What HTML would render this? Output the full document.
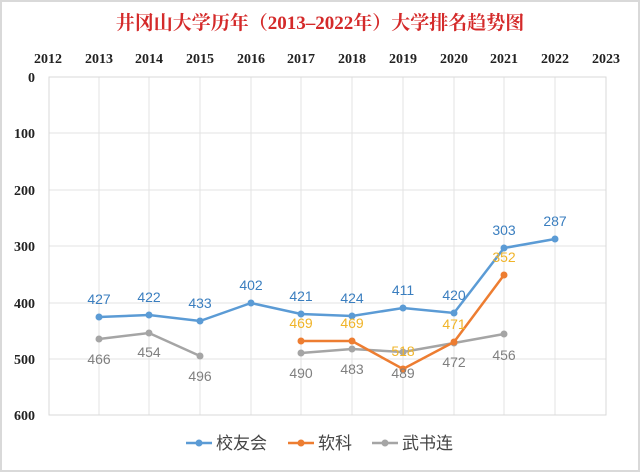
<!DOCTYPE html>
<html><head><meta charset="utf-8"><style>
body{margin:0;background:#fff;}
svg{display:block}
</style></head><body>
<svg width="640" height="472" viewBox="0 0 640 472" xmlns="http://www.w3.org/2000/svg">
<rect x="1" y="1" width="638" height="470" fill="#fff" stroke="#d9d9d9" stroke-width="2"/>
<text x="320" y="29" text-anchor="middle" font-family="'Liberation Serif','Noto Serif CJK SC',serif" font-weight="bold" font-size="19" fill="#d42a2a">井冈山大学历年（2013–2022年）大学排名趋势图</text>
<g font-family="'Liberation Serif',serif" font-weight="bold" font-size="14" fill="#222" text-anchor="middle">
<text x="48" y="63">2012</text><text x="99" y="63">2013</text><text x="149" y="63">2014</text><text x="200" y="63">2015</text><text x="251" y="63">2016</text><text x="301" y="63">2017</text><text x="352" y="63">2018</text><text x="403" y="63">2019</text><text x="454" y="63">2020</text><text x="504" y="63">2021</text><text x="555" y="63">2022</text><text x="606" y="63">2023</text>
</g>
<g font-family="'Liberation Serif',serif" font-weight="bold" font-size="14" fill="#222" text-anchor="end">
<text x="35" y="82">0</text><text x="35" y="138">100</text><text x="35" y="195">200</text><text x="35" y="251">300</text><text x="35" y="308">400</text><text x="35" y="364">500</text><text x="35" y="420">600</text>
</g>
<g stroke="#e3e3e3" stroke-width="1">
<line x1="49" y1="133" x2="606" y2="133"/><line x1="49" y1="190" x2="606" y2="190"/><line x1="49" y1="246" x2="606" y2="246"/><line x1="49" y1="303" x2="606" y2="303"/><line x1="49" y1="359" x2="606" y2="359"/>
<line x1="99" y1="77" x2="99" y2="415"/><line x1="149" y1="77" x2="149" y2="415"/><line x1="200" y1="77" x2="200" y2="415"/><line x1="251" y1="77" x2="251" y2="415"/><line x1="301" y1="77" x2="301" y2="415"/><line x1="352" y1="77" x2="352" y2="415"/><line x1="403" y1="77" x2="403" y2="415"/><line x1="454" y1="77" x2="454" y2="415"/><line x1="504" y1="77" x2="504" y2="415"/><line x1="555" y1="77" x2="555" y2="415"/>
</g>
<rect x="49" y="77" width="557" height="338" fill="none" stroke="#d9d9d9"/>
<polyline fill="none" stroke="#5b9bd5" stroke-width="2.5" points="99,317 149,315 200,321 251,303 301,314 352,316 403,308 454,313 504,248 555,239"/>
<g fill="#5b9bd5"><circle cx="99" cy="317" r="3.5"/><circle cx="149" cy="315" r="3.5"/><circle cx="200" cy="321" r="3.5"/><circle cx="251" cy="303" r="3.5"/><circle cx="301" cy="314" r="3.5"/><circle cx="352" cy="316" r="3.5"/><circle cx="403" cy="308" r="3.5"/><circle cx="454" cy="313" r="3.5"/><circle cx="504" cy="248" r="3.5"/><circle cx="555" cy="239" r="3.5"/></g>
<polyline fill="none" stroke="#a5a5a5" stroke-width="2.5" points="99,339 149,333 200,356"/>
<polyline fill="none" stroke="#a5a5a5" stroke-width="2.5" points="301,353 352,349 403,352 454,343 504,334"/>
<g fill="#a5a5a5"><circle cx="99" cy="339" r="3.5"/><circle cx="149" cy="333" r="3.5"/><circle cx="200" cy="356" r="3.5"/><circle cx="301" cy="353" r="3.5"/><circle cx="352" cy="349" r="3.5"/><circle cx="403" cy="352" r="3.5"/><circle cx="454" cy="343" r="3.5"/><circle cx="504" cy="334" r="3.5"/></g>
<polyline fill="none" stroke="#ed7d31" stroke-width="2.5" points="301,341 352,341 403,369 454,342 504,275"/>
<g fill="#ed7d31"><circle cx="301" cy="341" r="3.5"/><circle cx="352" cy="341" r="3.5"/><circle cx="403" cy="369" r="3.5"/><circle cx="454" cy="342" r="3.5"/><circle cx="504" cy="275" r="3.5"/></g>
<g font-family="'Liberation Sans',sans-serif" font-size="14" text-anchor="middle">
<g fill="#3a7ebf"><text x="99" y="304">427</text><text x="149" y="302">422</text><text x="200" y="308">433</text><text x="251" y="290">402</text><text x="301" y="301">421</text><text x="352" y="303">424</text><text x="403" y="295">411</text><text x="454" y="300">420</text><text x="504" y="235">303</text><text x="555" y="226">287</text></g>
<g fill="#f0b429"><text x="301" y="328">469</text><text x="352" y="328">469</text><text x="403" y="356">518</text><text x="454" y="329">471</text><text x="504" y="262">352</text></g>
<g fill="#7f7f7f"><text x="99" y="364">466</text><text x="149" y="357">454</text><text x="200" y="381">496</text><text x="301" y="378">490</text><text x="352" y="374">483</text><text x="403" y="378">489</text><text x="454" y="367">472</text><text x="504" y="360">456</text></g>
</g>
<g font-family="'Liberation Sans','Noto Sans CJK SC',sans-serif" font-size="17" fill="#444">
<line x1="186" y1="443" x2="212" y2="443" stroke="#5b9bd5" stroke-width="2.5"/><circle cx="199" cy="443" r="3.5" fill="#5b9bd5"/><text x="216" y="449">校友会</text>
<line x1="288" y1="443" x2="314" y2="443" stroke="#ed7d31" stroke-width="2.5"/><circle cx="301" cy="443" r="3.5" fill="#ed7d31"/><text x="318" y="449">软科</text>
<line x1="372" y1="443" x2="398" y2="443" stroke="#a5a5a5" stroke-width="2.5"/><circle cx="385" cy="443" r="3.5" fill="#a5a5a5"/><text x="402" y="449">武书连</text>
</g>
</svg>
</body></html>
